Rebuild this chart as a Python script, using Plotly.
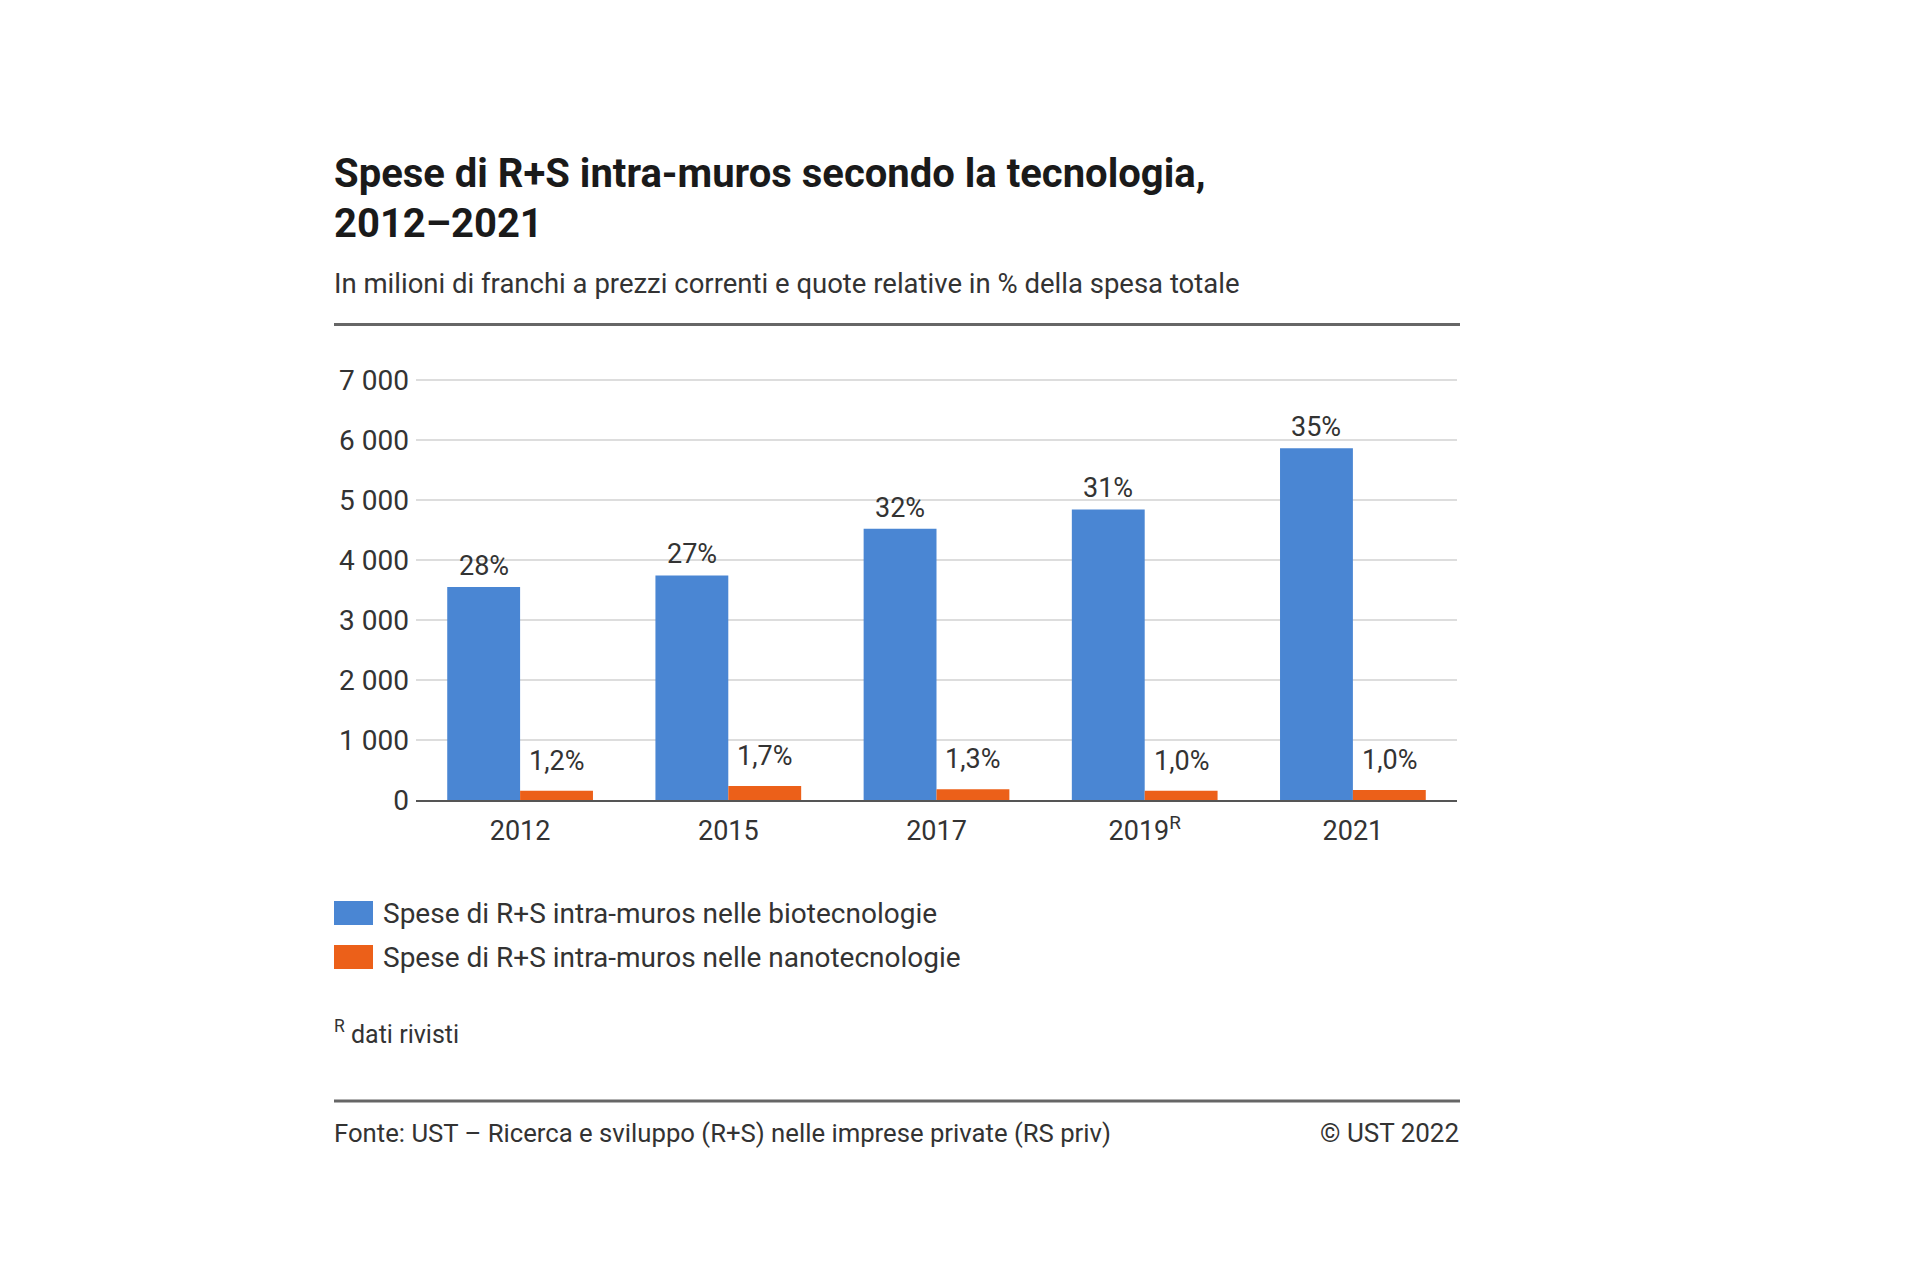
import plotly.graph_objects as go

# ---- data ----
years = ["2012", "2015", "2017", "2019<sup>R</sup>", "2021"]
bio_values = [3550, 3740, 4520, 4840, 5860]
nano_values = [155, 235, 180, 155, 165]
bio_labels = ["28%", "27%", "32%", "31%", "35%"]
nano_labels = ["1,2%", "1,7%", "1,3%", "1,0%", "1,0%"]
bio_name = "Spese di R+S intra-muros nelle biotecnologie"
nano_name = "Spese di R+S intra-muros nelle nanotecnologie"
y_ticks = [0, 1000, 2000, 3000, 4000, 5000, 6000, 7000]

BLUE = "#4a86d3"
ORANGE = "#ec6019"
TEXT = "#333333"
FONT = "Roboto"

W, H = 1920, 1280
L, R, T, B = 416, 1457, 378, 800  # plot area in pixels


def px(x):
    return (x - L) / (R - L)


def py(y):
    return (B - y) / (B - T)


fig = go.Figure()
fig.add_trace(go.Bar(x=years, y=bio_values, name=bio_name, marker_color=BLUE,
                     marker_line_width=0, showlegend=False))
fig.add_trace(go.Bar(x=years, y=nano_values, name=nano_name, marker_color=ORANGE,
                     marker_line_width=0, showlegend=False))

annotations = []
bar_half = (R - L) / len(years) * 0.7 / 4
for i, (v, t) in enumerate(zip(bio_values, bio_labels)):
    annotations.append(dict(x=i, y=v, text=t, xref="x", yref="y", showarrow=False,
                            xshift=-bar_half, yshift=21, yanchor="middle",
                            font=dict(family=FONT, size=27, color=TEXT)))
for i, (v, t) in enumerate(zip(nano_values, nano_labels)):
    annotations.append(dict(x=i, y=v, text=t, xref="x", yref="y", showarrow=False,
                            xshift=bar_half, yshift=30, yanchor="middle",
                            font=dict(family=FONT, size=27, color=TEXT)))


def text(x, y, s, size, anchor="left", color=TEXT, bold=False):
    annotations.append(dict(x=px(x), y=py(y), xref="paper", yref="paper", text=s,
                            showarrow=False, xanchor=anchor, yanchor="middle",
                            font=dict(family=FONT, size=size, color=color,
                                      weight="bold" if bold else "normal")))


text(332, 174, "Spese di R+S intra-muros secondo la tecnologia,", 40, color="#1a1a1a", bold=True)
text(332, 224, "2012–2021", 40, color="#1a1a1a", bold=True)
text(332, 283, "In milioni di franchi a prezzi correnti e quote relative in % della spesa totale", 27.5)
text(381, 913, bio_name, 28)
text(381, 957, nano_name, 28)
text(332, 1032, "<sup>R</sup> dati rivisti", 25)
text(332, 1133, "Fonte: UST – Ricerca e sviluppo (R+S) nelle imprese private (RS priv)", 25.7)
text(1461, 1133, "© UST 2022", 26, anchor="right")

shapes = [
    dict(type="line", xref="paper", yref="paper", x0=px(334), x1=px(1460), y0=py(324.5), y1=py(324.5),
         line=dict(color="#666666", width=3)),
    dict(type="line", xref="paper", yref="paper", x0=px(334), x1=px(1460), y0=py(1101), y1=py(1101),
         line=dict(color="#666666", width=3)),
    dict(type="rect", xref="paper", yref="paper", x0=px(334), x1=px(373), y0=py(901), y1=py(925),
         fillcolor=BLUE, line_width=0),
    dict(type="rect", xref="paper", yref="paper", x0=px(334), x1=px(373), y0=py(945), y1=py(969),
         fillcolor=ORANGE, line_width=0),
]

fig.update_layout(
    width=W, height=H,
    margin=dict(l=L, r=W - R, t=T, b=H - B, pad=0),
    paper_bgcolor="white", plot_bgcolor="white",
    barmode="group", bargap=0.3, bargroupgap=0,
    separators=", ",
    font=dict(family=FONT, size=27, color=TEXT),
    annotations=annotations, shapes=shapes,
    showlegend=False,
)
fig.update_xaxes(type="category", range=[-0.5, len(years) - 0.5], showline=True,
                 linecolor="#555555", linewidth=2, ticks="",
                 tickfont=dict(family=FONT, size=27, color=TEXT), showgrid=False,
                 ticklabelstandoff=6)
fig.update_yaxes(range=[0, 7030], tickvals=y_ticks, tickformat=",d", showgrid=True,
                 gridcolor="#dddddd", gridwidth=2, zeroline=False,
                 tickfont=dict(family=FONT, size=28, color=TEXT), ticks="",
                 ticklabelstandoff=6)

fig.write_html("out.html")
